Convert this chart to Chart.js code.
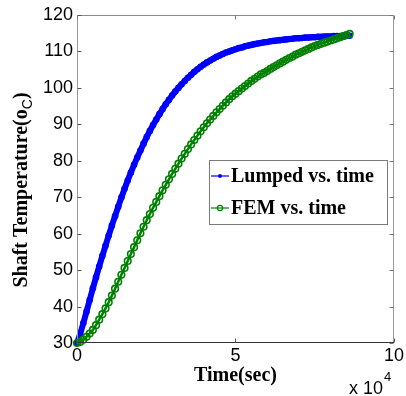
<!DOCTYPE html>
<html><head><meta charset="utf-8">
<script src="https://cdn.jsdelivr.net/npm/chart.js@4"></script>
<style>html,body{margin:0;padding:0;background:#fff}#wrap{width:406px;height:396px;position:relative}</style>
</head><body><div id="wrap"><canvas id="c" width="406" height="396"></canvas></div>
<script>
const timeSec = [0,1000,2000,3000,4000,5000,6000,7000,8000,9000,
  10000,11000,12000,13000,14000,15000,16000,17000,18000,19000,
  20000,21000,22000,23000,24000,25000,26000,27000,28000,29000,
  30000,31000,32000,33000,34000,35000,36000,37000,38000,39000,
  40000,41000,42000,43000,44000,45000,46000,47000,48000,49000,
  50000,51000,52000,53000,54000,55000,56000,57000,58000,59000,
  60000,61000,62000,63000,64000,65000,66000,67000,68000,69000,
  70000,71000,72000,73000,74000,75000,76000,77000,78000,79000,
  80000,81000,82000,83000,84000,85000,86000];
const lumped = [30.0,32.5,35.5,38.6,41.8,45.0,48.0,51.0,53.9,56.7,
  59.5,62.2,64.8,67.4,69.9,72.3,74.6,76.8,78.9,80.9,
  82.8,84.7,86.5,88.2,89.8,91.3,92.8,94.2,95.5,96.7,
  97.9,99.0,100.0,101.0,101.9,102.8,103.6,104.4,105.1,105.8,
  106.4,107.0,107.5,108.0,108.5,108.9,109.3,109.7,110.0,110.3,
  110.6,110.9,111.1,111.4,111.6,111.8,112.0,112.2,112.3,112.5,
  112.6,112.8,112.9,113.0,113.1,113.2,113.3,113.4,113.5,113.6,
  113.6,113.7,113.8,113.8,113.9,113.9,114.0,114.0,114.1,114.1,
  114.1,114.2,114.2,114.2,114.3,114.3,114.3];
const fem = [30.0,30.3,30.9,31.7,32.6,33.6,34.9,36.4,37.9,39.5,
  41.2,43.0,44.9,46.8,48.7,50.6,52.5,54.4,56.3,58.2,
  60.1,61.9,63.7,65.4,67.1,68.7,70.3,71.9,73.4,74.9,
  76.4,77.8,79.2,80.6,81.9,83.2,84.5,85.7,86.9,88.1,
  89.2,90.3,91.3,92.3,93.3,94.2,95.1,96.0,96.9,97.7,
  98.4,99.1,99.8,100.5,101.2,101.9,102.5,103.1,103.7,104.1,
  104.6,105.2,105.7,106.2,106.7,107.2,107.7,108.2,108.6,109.1,
  109.5,109.9,110.3,110.7,111.1,111.5,111.8,112.1,112.4,112.7,
  113.0,113.3,113.6,113.9,114.2,114.5,114.8];
const xTickValues = [0, 50000, 100000];
const yTickValues = [30, 40, 50, 60, 70, 80, 90, 100, 110, 120];
const seriesNames = ['Lumped vs. time', 'FEM vs. time'];
const seriesColors = ['#0000ff', '#008000'];
const xTitle = 'Time(sec)';
const yTitle = 'Shaft Temperature(o';
const ySub = 'C';
const xExp = '4';

const SANS = '"Liberation Sans", Arial, sans-serif';
const SERIF = '"Liberation Serif", "Times New Roman", serif';

const toXY = arr => arr.map((v, i) => ({x: timeSec[i], y: v}));

const decor = {
  id: 'decor',
  afterDatasetsDraw(chart) {
    const {ctx, chartArea: a, scales} = chart;
    ctx.save();
    ctx.lineWidth = 1;
    const L = Math.round(a.left) + 0.5, R = Math.round(a.right) - 0.5;
    const T = Math.round(a.top) + 0.5, B = Math.round(a.bottom) - 0.5;
    const seg = (x1, y1, x2, y2, c) => { ctx.strokeStyle = c; ctx.beginPath(); ctx.moveTo(x1, y1); ctx.lineTo(x2, y2); ctx.stroke(); };
    seg(L, T, R, T, '#8a8a8a');
    seg(R, T, R, B, '#9a9a9a');
    seg(L, T, L, B + 0.5, '#9a9a9a');
    seg(L - 0.5, B, R + 0.5, B, '#333333');
    yTickValues.forEach(v => {
      const y = Math.round(scales.y.getPixelForValue(v)) + 0.5;
      seg(L, y, L + 4, y, '#555');
      seg(R, y, R - 4, y, '#777');
    });
    xTickValues.forEach(v => {
      const x = Math.round(scales.x.getPixelForValue(v)) + 0.5;
      seg(x, B, x, B - 4, '#555');
      seg(x, T, x, T + 4, '#777');
    });
    ctx.restore();
  },
  afterDraw(chart) {
    const {ctx, chartArea: a} = chart;
    ctx.save();
    ctx.fillStyle = '#000';
    ctx.font = 'bold 20px ' + SERIF;
    ctx.textAlign = 'center';
    ctx.textBaseline = 'alphabetic';
    ctx.fillText(xTitle, (a.left + a.right) / 2, 381);
    ctx.textAlign = 'left';
    ctx.font = '18px ' + SANS;
    ctx.fillText('x 10', 349, 394);
    const w10 = ctx.measureText('x 10').width;
    ctx.font = '13px ' + SANS;
    ctx.fillText(xExp, 349 + w10 + 1, 381);
    ctx.save();
    ctx.translate(27, 190);
    ctx.rotate(-Math.PI / 2);
    ctx.font = 'bold 20px ' + SERIF;
    const w1 = ctx.measureText(yTitle).width;
    ctx.font = '14px ' + SANS;
    const w2 = ctx.measureText(ySub).width;
    ctx.font = 'bold 20px ' + SERIF;
    const w3 = ctx.measureText(')').width;
    let x0 = -(w1 + w2 + w3) / 2;
    ctx.textAlign = 'left';
    ctx.fillText(yTitle, x0, 0);
    ctx.font = '14px ' + SANS;
    ctx.fillText(ySub, x0 + w1, 5);
    ctx.font = 'bold 20px ' + SERIF;
    ctx.fillText(')', x0 + w1 + w2, 0);
    ctx.restore();
    const bx = 209.5, by = 160.5, bw = 178, bh = 64;
    ctx.fillStyle = '#fff';
    ctx.fillRect(bx, by, bw, bh);
    ctx.strokeStyle = '#7a7a7a';
    ctx.lineWidth = 1;
    ctx.strokeRect(bx, by, bw, bh);
    const rows = [176, 208];
    rows.forEach((ry, i) => {
      ctx.strokeStyle = seriesColors[i];
      ctx.lineWidth = 1.2;
      ctx.beginPath(); ctx.moveTo(211, ry); ctx.lineTo(229, ry); ctx.stroke();
      ctx.beginPath();
      if (i === 0) {
        ctx.fillStyle = seriesColors[i];
        ctx.arc(220, ry, 2, 0, Math.PI * 2); ctx.fill();
      } else {
        ctx.arc(220, ry, 2.6, 0, Math.PI * 2); ctx.stroke();
      }
      ctx.fillStyle = '#000';
      ctx.font = 'bold 20px ' + SERIF;
      ctx.textAlign = 'left';
      ctx.textBaseline = 'alphabetic';
      ctx.fillText(seriesNames[i], 231, ry + 6);
    });
    ctx.restore();
  }
};

new Chart(document.getElementById('c'), {
  type: 'line',
  data: {
    datasets: [
      {
        label: seriesNames[0], data: toXY(lumped), order: 1,
        borderColor: seriesColors[0], borderWidth: 6,
        pointRadius: 3.3, pointBackgroundColor: seriesColors[0], pointBorderWidth: 0,
        tension: 0.3, clip: 10
      },
      {
        label: seriesNames[1], data: toXY(fem), order: 0,
        borderColor: seriesColors[1], borderWidth: 2.5,
        pointRadius: 3.3, pointBorderWidth: 1.6, pointBorderColor: seriesColors[1],
        pointBackgroundColor: 'rgba(0,0,0,0)',
        tension: 0.3, clip: 10
      }
    ]
  },
  options: {
    responsive: false, animation: false, devicePixelRatio: 1,
    layout: {padding: {left: 0, top: 15, right: 11, bottom: 0}},
    plugins: {legend: {display: false}, tooltip: {enabled: false}},
    scales: {
      x: {
        type: 'linear', min: 0, max: 100000,
        afterBuildTicks: s => { s.ticks = xTickValues.map(v => ({value: v})); },
        afterFit: s => { s.height = 53; },
        grid: {display: false, drawTicks: false}, border: {display: false},
        ticks: {padding: 2, color: '#000', font: {family: SANS, size: 18}, maxRotation: 0,
          callback: v => String(v / 10000)}
      },
      y: {
        type: 'linear', min: 30, max: 120,
        afterBuildTicks: s => { s.ticks = yTickValues.map(v => ({value: v})); },
        afterFit: s => { s.width = 77; },
        grid: {display: false, drawTicks: false}, border: {display: false},
        ticks: {padding: 4, color: '#000', font: {family: SANS, size: 18}}
      }
    }
  },
  plugins: [decor]
});
</script>
</body></html>
